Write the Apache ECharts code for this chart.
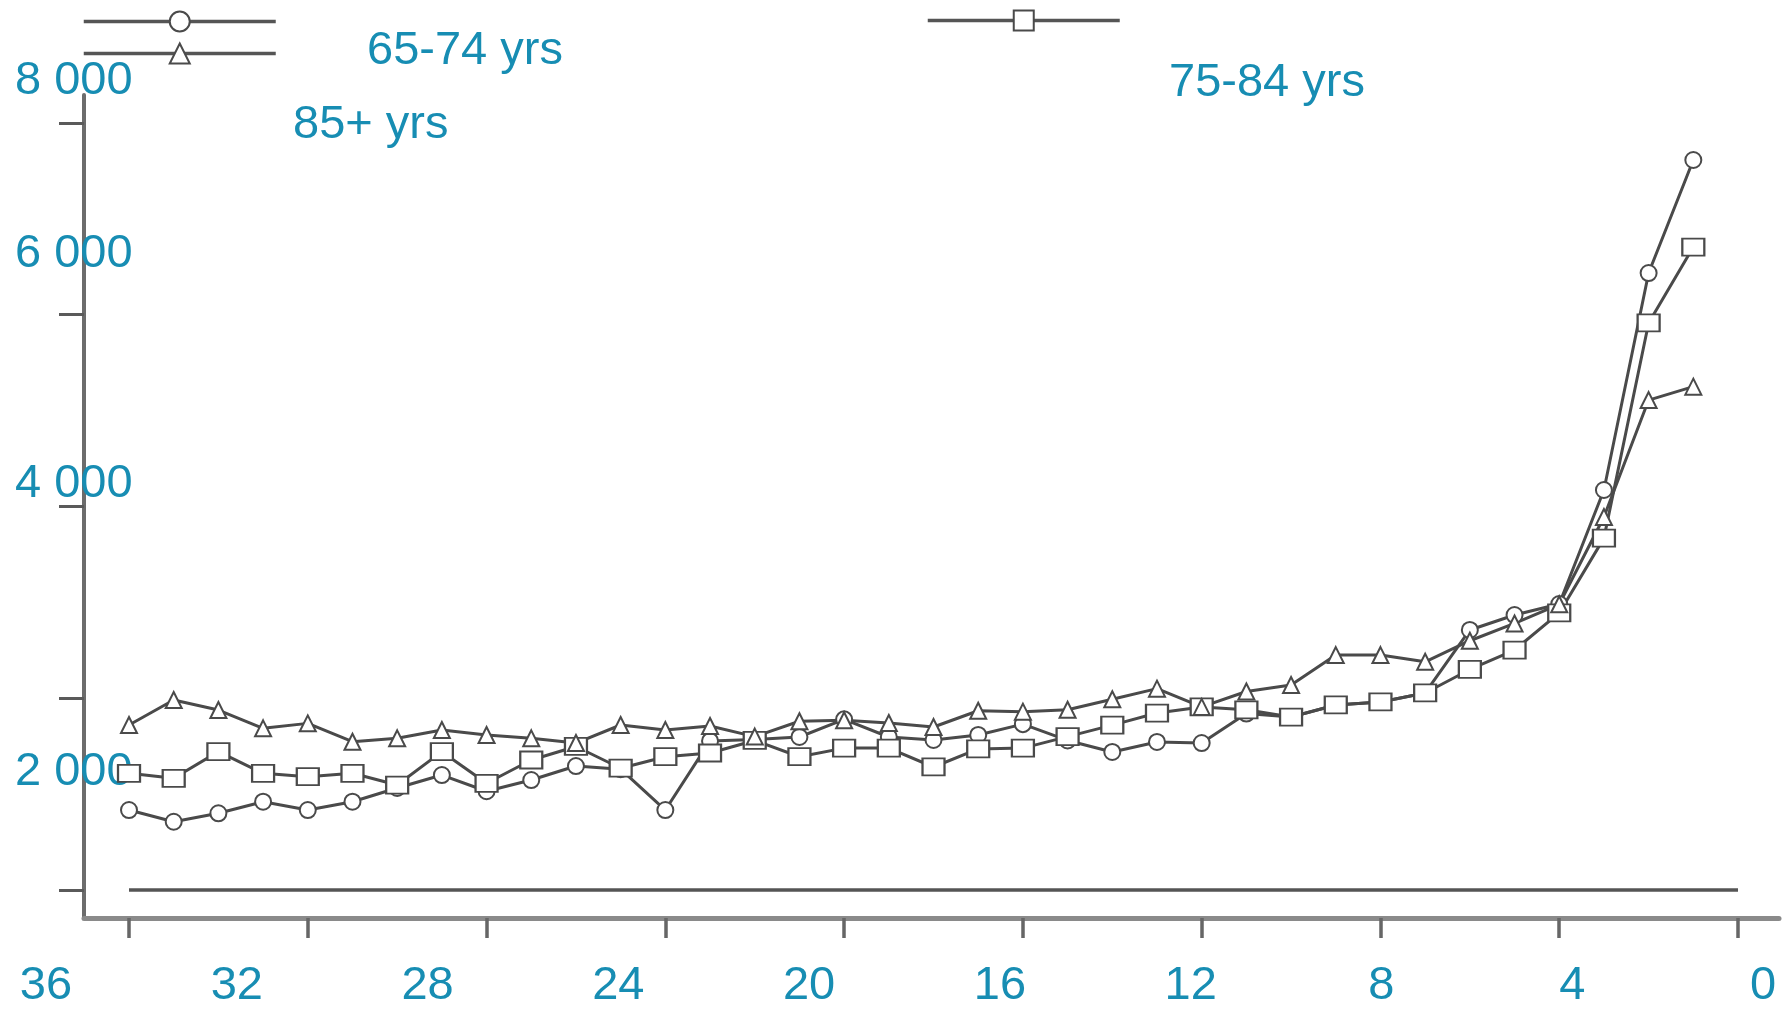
<!DOCTYPE html>
<html>
<head>
<meta charset="utf-8">
<script src="https://cdn.jsdelivr.net/npm/echarts@6/dist/echarts.min.js"></script>
<style>
html,body{margin:0;padding:0;background:#fff;}
#chart{width:1787px;height:1010px;}
</style>
</head>
<body>
<div id="chart"></div>
<script>
// ---- data (months before the end, values per month) ----
const months = [36,35,34,33,32,31,30,29,28,27,26,25,24,23,22,21,20,19,18,17,16,15,14,13,12,11,10,9,8,7,6,5,4,3,2,1];
const seriesNames = ['65-74 yrs', '75-84 yrs', '85+ yrs'];
const age65to74 = [834,712,800,921,834,921,1064,1199,1030,1147,1293,1260,834,1555,1570,1596,1780,1596,1565,1617,1730,1560,1440,1544,1533,1840,1804,1930,1961,2055,2712,2868,2983,4172,6435,7614];
const age75to84 = [1217,1165,1443,1217,1182,1217,1095,1443,1113,1356,1497,1270,1390,1429,1560,1390,1480,1481,1283,1471,1480,1600,1720,1846,1909,1880,1804,1930,1961,2055,2300,2503,2890,3670,5914,6706];
const age85plus = [1721,1982,1877,1686,1738,1547,1582,1669,1617,1582,1533,1721,1669,1710,1600,1760,1770,1742,1700,1870,1860,1880,1990,2100,1910,2070,2138,2450,2450,2380,2600,2780,2980,3890,5110,5250];
const xTickValues = [36,32,28,24,20,16,12,8,4,0];
const xTickLabels = ['36','32','28','24','20','16','12','8','4','0'];
const yTickValues = [0,2000,4000,6000,8000];
const yTickLabels = ['8 000','6 000','4 000','2 000'];
const baselineValue = 0;

// ---- layout / style ----
const BLUE = '#178db3';
const GRAY = '#4a4a4a';
const FONT = 'Liberation Sans, Arial, sans-serif';
const yLabelCenters = [81, 254.5, 484.5, 772.5];
const legendLabelPos = [[367, 51], [1169, 83], [293, 125.5]];

const pair = vals => months.map((m, i) => [m, vals[i]]);

const chart = echarts.init(document.getElementById('chart'), null, {renderer: 'canvas'});

const mkSeries = (name, vals, symbol, size) => ({
  name: name,
  type: 'line',
  xAxisIndex: 0, yAxisIndex: 0,
  data: pair(vals),
  symbol: symbol,
  symbolSize: size,
  showAllSymbol: true,
  lineStyle: {color: GRAY, width: 3},
  itemStyle: {color: GRAY, borderColor: GRAY, borderWidth: 3},
  emphasis: {disabled: true},
  z: 3
});

const s1 = mkSeries(seriesNames[0], age65to74, 'emptyCircle', 16);
const s2 = mkSeries(seriesNames[1], age75to84, 'emptyRect', [22, 17]);
const s3 = mkSeries(seriesNames[2], age85plus, 'emptyTriangle', 16);
s1.markLine = {
  silent: true,
  symbol: ['none', 'none'],
  label: {show: false},
  lineStyle: {color: '#555', width: 3.5, type: 'solid'},
  data: [[{coord: [xTickValues[0], baselineValue]}, {coord: [xTickValues[xTickValues.length - 1], baselineValue]}]]
};

const legendCommon = {
  orient: 'horizontal',
  padding: 0,
  itemWidth: 192,
  itemHeight: 25,
  selectedMode: false,
  formatter: () => '',
  lineStyle: {width: 3.5, color: '#555'},
  textStyle: {fontSize: 1}
};

const option = {
  animation: false,
  backgroundColor: '#ffffff',
  legend: [
    Object.assign({}, legendCommon, {data: [seriesNames[0]], left: 82, top: 9}),
    Object.assign({}, legendCommon, {data: [seriesNames[2]], left: 82, top: 41}),
    Object.assign({}, legendCommon, {data: [seriesNames[1]], left: 926, top: 8})
  ],
  grid: [
    {left: 84, right: 8, top: 95, bottom: 92, containLabel: false},
    {left: 46, right: 24, top: 880, bottom: 70, containLabel: false}
  ],
  xAxis: [
    {
      gridIndex: 0, type: 'value', inverse: true, min: -0.917, max: 37.007,
      axisLine: {show: true, onZero: false, lineStyle: {color: '#8a8a8a', width: 5}},
      axisTick: {show: true, customValues: xTickValues, length: 20, inside: false, lineStyle: {color: '#666', width: 3.5}},
      axisLabel: {show: false},
      splitLine: {show: false}
    },
    {
      gridIndex: 1, type: 'value', inverse: true, min: 0, max: 36, interval: 4,
      axisLine: {show: false},
      axisTick: {show: false},
      splitLine: {show: false},
      axisLabel: {
        show: true, customValues: xTickValues, margin: 23,
        formatter: v => xTickLabels[xTickValues.indexOf(v)],
        color: BLUE, fontSize: 47, fontFamily: FONT
      }
    }
  ],
  yAxis: [
    {
      gridIndex: 0, type: 'value', min: -292, max: 8292,
      axisLine: {show: true, onZero: false, lineStyle: {color: '#6c6c6c', width: 4}},
      axisTick: {show: true, customValues: yTickValues, length: 25, lineStyle: {color: '#5a5a5a', width: 3}},
      axisLabel: {show: false},
      splitLine: {show: false}
    },
    {gridIndex: 1, type: 'value', show: false}
  ],
  graphic: [].concat(
    yTickLabels.map((t, i) => ({
      type: 'text', x: 15, y: yLabelCenters[i], z: 1, silent: true,
      style: {text: t, fill: BLUE, fontSize: 47, fontFamily: FONT, align: 'left', verticalAlign: 'middle'}
    })),
    seriesNames.map((t, i) => ({
      type: 'text', x: legendLabelPos[i][0], y: legendLabelPos[i][1], z: 1, silent: true,
      style: {text: t, fill: BLUE, fontSize: 47, fontFamily: FONT, align: 'left', verticalAlign: 'middle'}
    }))
  ),
  series: [s1, s2, s3]
};

chart.setOption(option);
</script>
</body>
</html>
